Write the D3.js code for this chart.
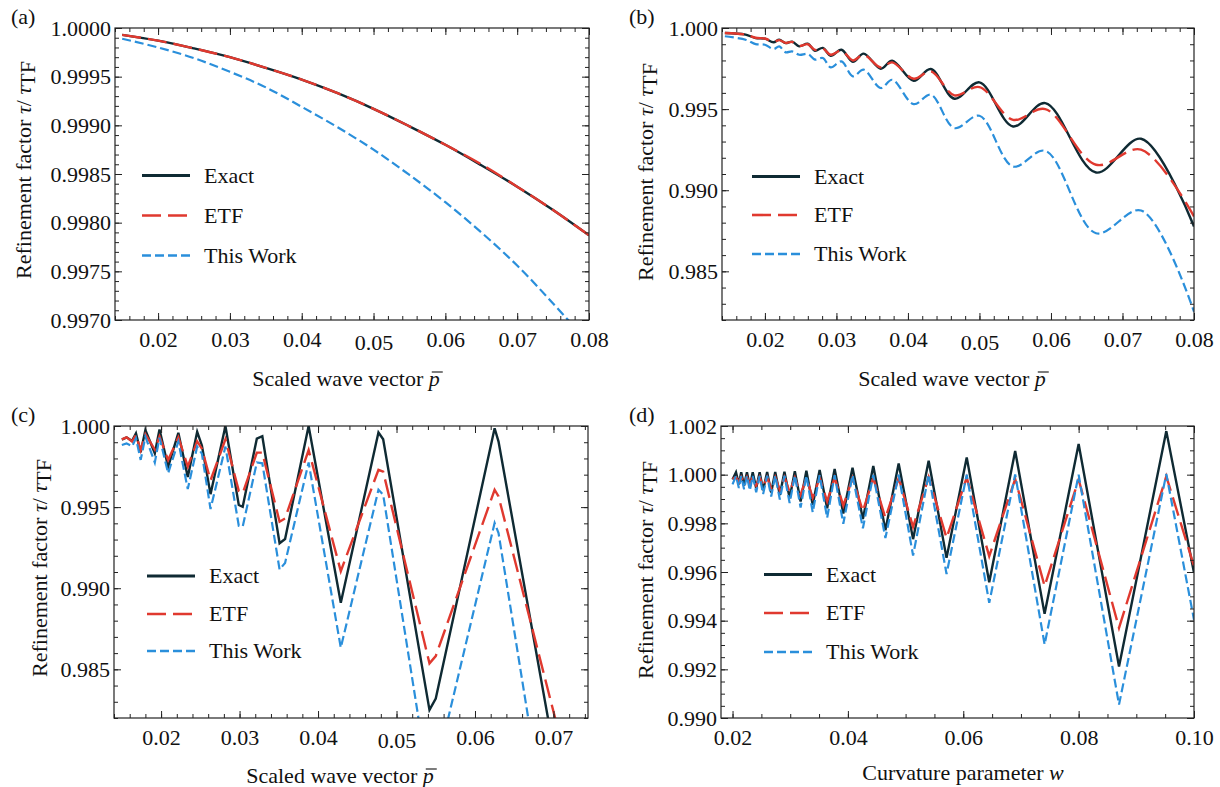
<!DOCTYPE html>
<html>
<head>
  <meta charset="utf-8">
  <title>Refinement factor</title>
  <script src="https://d3js.org/d3.v7.min.js"></script>
  <style>
    body { margin: 0; background: #fff; }
    text { font-family: 'Liberation Serif', 'Times New Roman', Times, serif; fill: #111; }
  </style>
</head>
<body>
  <svg width="1220" height="787"></svg>
  <script>
    // ---- data ----
    // (a) smooth curves
    const pA = [0.015, 0.02, 0.025, 0.03, 0.035, 0.04, 0.045, 0.05, 0.055, 0.06, 0.065, 0.07, 0.075, 0.08];
    const exactA = [0.99993, 0.99987, 0.99979, 0.99970, 0.99959, 0.99947, 0.99933, 0.99917, 0.99899, 0.99880, 0.99859, 0.99837, 0.99813, 0.99787];
    const etfA = [0.99993, 0.99987, 0.99979, 0.99970, 0.99959, 0.99947, 0.99933, 0.99917, 0.99899, 0.99880, 0.99860, 0.99837, 0.99813, 0.99787];
    const workA = [0.99989, 0.99980, 0.99969, 0.99955, 0.99939, 0.99919, 0.99898, 0.99875, 0.99849, 0.99821, 0.99790, 0.99756, 0.99717, 0.99676];

    // (b) wiggly curves
    const pB = [0.0144, 0.0173, 0.0187, 0.0200, 0.0212, 0.0220, 0.0229, 0.0238, 0.0248, 0.0260, 0.0270, 0.0281, 0.0292, 0.0307,
                0.0323, 0.0338, 0.0362, 0.0378, 0.0408, 0.0432, 0.0465, 0.0500, 0.0547, 0.0592, 0.0663, 0.0726, 0.0800];
    const exactB = [0.99969, 0.99959, 0.99938, 0.99934, 0.99912, 0.99928, 0.99907, 0.99916, 0.99887, 0.99903, 0.99860, 0.99877, 0.99829, 0.99866,
                    0.99792, 0.99842, 0.99749, 0.99798, 0.99675, 0.99747, 0.99564, 0.99665, 0.99393, 0.99537, 0.99109, 0.99317, 0.98776];
    const etfB = [0.99969, 0.99959, 0.99940, 0.99935, 0.99915, 0.99925, 0.99908, 0.99914, 0.99890, 0.99900, 0.99865, 0.99873, 0.99835, 0.99860,
                  0.99800, 0.99835, 0.99757, 0.99788, 0.99687, 0.99733, 0.99585, 0.99636, 0.99434, 0.99500, 0.99157, 0.99250, 0.98838];
    const workB = [0.99949, 0.99928, 0.99901, 0.99897, 0.99870, 0.99887, 0.99850, 0.99856, 0.99835, 0.99840, 0.99805, 0.99815, 0.99757, 0.99794,
                   0.99702, 0.99743, 0.99630, 0.99681, 0.99531, 0.99589, 0.99383, 0.99459, 0.99146, 0.99243, 0.98735, 0.98875, 0.98251];

    // (c) sampled sawtooth, same wave vector axis
    const pC = [0.0150, 0.0156, 0.0163, 0.0168, 0.0174, 0.0180, 0.0192, 0.0198, 0.0209, 0.0222, 0.0234, 0.0246, 0.0252, 0.0263, 0.0282,
                0.0299, 0.0304, 0.0322, 0.0329, 0.0351, 0.0358, 0.0388, 0.0429, 0.0477, 0.0483, 0.0542, 0.0550, 0.0625, 0.0630, 0.0710];
    const exactC = [0.99916, 0.99930, 0.99908, 0.99954, 0.99838, 0.99975, 0.99832, 0.99979, 0.99748, 0.99958, 0.99685, 0.99964, 0.99880, 0.99580, 1.00000,
                    0.99513, 0.99502, 0.99922, 0.99937, 0.99277, 0.99303, 1.00000, 0.98910, 0.99960, 0.99918, 0.98250, 0.98320, 0.99986, 0.99904, 0.97740];
    const etfC = [0.99918, 0.99930, 0.99905, 0.99945, 0.99850, 0.99950, 0.99855, 0.99935, 0.99790, 0.99930, 0.99750, 0.99905, 0.99860, 0.99665, 0.99918,
                  0.99600, 0.99585, 0.99836, 0.99836, 0.99410, 0.99430, 0.99852, 0.99105, 0.99730, 0.99718, 0.98537, 0.98582, 0.99607, 0.99566, 0.98050];
    const workC = [0.99883, 0.99893, 0.99875, 0.99924, 0.99791, 0.99934, 0.99775, 0.99928, 0.99709, 0.99904, 0.99611, 0.99873, 0.99830, 0.99488, 0.99873,
                   0.99385, 0.99380, 0.99775, 0.99770, 0.99115, 0.99156, 0.99775, 0.98633, 0.99607, 0.99576, 0.97770, 0.97876, 0.99402, 0.99340, 0.96930];

    // (d) curvature parameter sawtooth
    const wD = [0.0200, 0.0206, 0.0211, 0.0215, 0.0220, 0.0225, 0.0230, 0.0235, 0.0241, 0.0247, 0.0253, 0.0260, 0.0267, 0.0274,
                0.0282, 0.0290, 0.0299, 0.0308, 0.0318, 0.0328, 0.0339, 0.0351, 0.0364, 0.0377, 0.0392, 0.0408, 0.0426, 0.0444,
                0.0465, 0.0488, 0.0513, 0.0540, 0.0571, 0.0606, 0.0645, 0.0690, 0.0741, 0.0800, 0.0870, 0.0952, 0.1000];
    const exactD = [0.99980, 1.00010, 0.99960, 1.00010, 0.99955, 1.00010, 0.99950, 1.00010, 0.99944, 1.00010, 0.99936, 1.00011, 0.99927, 1.00011,
                    0.99916, 1.00012, 0.99903, 1.00014, 0.99890, 1.00016, 0.99876, 1.00019, 0.99862, 1.00023, 0.99840, 1.00028, 0.99818, 1.00036,
                    0.99772, 1.00046, 0.99735, 1.00057, 0.99658, 1.00071, 0.99558, 1.00097, 0.99428, 1.00126, 0.99212, 1.00179, 0.99597];
    const etfD = [0.99982, 0.99990, 0.99968, 0.99990, 0.99964, 0.99990, 0.99960, 0.99990, 0.99955, 0.99990, 0.99950, 0.99989, 0.99944, 0.99989,
                  0.99937, 0.99989, 0.99928, 0.99988, 0.99918, 0.99988, 0.99905, 0.99987, 0.99890, 0.99987, 0.99873, 0.99986, 0.99850, 0.99986,
                  0.99822, 0.99986, 0.99785, 0.99990, 0.99740, 0.99988, 0.99665, 0.99982, 0.99542, 0.99980, 0.99370, 0.99993, 0.99624];
    const workD = [0.99960, 0.99995, 0.99945, 0.99995, 0.99940, 0.99995, 0.99935, 0.99995, 0.99928, 0.99995, 0.99920, 0.99996, 0.99910, 0.99996,
                   0.99898, 0.99996, 0.99883, 0.99997, 0.99865, 0.99997, 0.99845, 0.99998, 0.99822, 0.99998, 0.99798, 0.99998, 0.99780, 0.99999,
                   0.99740, 1.00000, 0.99668, 1.00000, 0.99592, 1.00000, 0.99473, 1.00001, 0.99302, 1.00000, 0.99055, 1.00003, 0.99404];

    // tick labels
    const xTicksP = [0.02, 0.03, 0.04, 0.05, 0.06, 0.07, 0.08];
    const xTicksPc = [0.02, 0.03, 0.04, 0.05, 0.06, 0.07];
    const xTicksW = [0.02, 0.04, 0.06, 0.08, 0.10];
    const yTicksA = [0.9970, 0.9975, 0.9980, 0.9985, 0.9990, 0.9995, 1.0000];
    const yTicksB = [0.985, 0.990, 0.995, 1.000];
    const yTicksD = [0.990, 0.992, 0.994, 0.996, 0.998, 1.000, 1.002];

    const seriesNames = ["Exact", "ETF", "This Work"];
    const seriesColors = ["#0f2a33", "#e0392f", "#2a8fdb"];
    const seriesDash = [null, "19,7", "9,4"];
    const seriesWidth = [2.4, 2.4, 2.2];

    const svg = d3.select("svg");
    svg.append("rect").attr("width", 1220).attr("height", 787).attr("fill", "#fff");

    const panels = [
      { key: "a", label: "(a)", lx: 11, ly: 24,
        left: 115, right: 589, top: 28, bottom: 320,
        xDomain: [0.014, 0.08], yDomain: [0.997, 1.0],
        xs: pA, ys: [exactA, etfA, workA], curve: d3.curveCatmullRom,
        xTicks: xTicksP, xMinor: 0.002, xFmt: d3.format(".2f"),
        yTicks: yTicksA, yMinor: 0.0001, yFmt: d3.format(".4f"),
        legX: 142, legY: [175.5, 215.5, 255.5],
        xTitle: "p", titleX: 346, titleY: 386, yTitleX: 31, yTitleY: 170 },
      { key: "b", label: "(b)", lx: 629, ly: 24,
        left: 722, right: 1194, top: 28, bottom: 320,
        xDomain: [0.014, 0.08], yDomain: [0.982, 1.0],
        xs: pB, ys: [exactB, etfB, workB], curve: d3.curveCatmullRom,
        xTicks: xTicksP, xMinor: 0.002, xFmt: d3.format(".2f"),
        yTicks: yTicksB, yMinor: 0.001, yFmt: d3.format(".3f"),
        legX: 752, legY: [176.5, 215, 254],
        xTitle: "p", titleX: 952, titleY: 386, yTitleX: 653, yTitleY: 172 },
      { key: "c", label: "(c)", lx: 11, ly: 422,
        left: 114, right: 588, top: 426, bottom: 718,
        xDomain: [0.014, 0.0744], yDomain: [0.982, 1.0],
        xs: pC, ys: [exactC, etfC, workC], curve: d3.curveLinear,
        xTicks: xTicksPc, xMinor: 0.002, xFmt: d3.format(".2f"),
        yTicks: yTicksB, yMinor: 0.001, yFmt: d3.format(".3f"),
        legX: 147, legY: [576, 614, 651],
        xTitle: "p", titleX: 340, titleY: 783, yTitleX: 47, yTitleY: 568 },
      { key: "d", label: "(d)", lx: 629, ly: 422,
        left: 721, right: 1194, top: 426, bottom: 718,
        xDomain: [0.018, 0.10], yDomain: [0.990, 1.002],
        xs: wD, ys: [exactD, etfD, workD], curve: d3.curveLinear,
        xTicks: xTicksW, xMinor: 0.005, xFmt: d3.format(".2f"),
        yTicks: yTicksD, yMinor: 0.0005, yFmt: d3.format(".3f"),
        legX: 764, legY: [574.5, 613, 652],
        xTitle: "w", titleX: 963, titleY: 780, yTitleX: 653, yTitleY: 570 }
    ];

    function minorValues(domain, step) {
      const k0 = Math.ceil(domain[0] / step - 1e-6), k1 = Math.floor(domain[1] / step + 1e-6);
      return d3.range(k0, k1 + 1).map(k => +(k * step).toFixed(6));
    }

    function styleAxis(sel) {
      sel.select(".domain").remove();
      sel.selectAll("line").attr("stroke", "#222").attr("stroke-width", 1);
      sel.attr("font-family", null).attr("font-size", 22);
      sel.selectAll("text").attr("fill", "#111");
    }

    panels.forEach(cfg => {
      const x = d3.scaleLinear().domain(cfg.xDomain).range([cfg.left, cfg.right]);
      const y = d3.scaleLinear().domain(cfg.yDomain).range([cfg.bottom, cfg.top]);
      const g = svg.append("g");

      g.append("clipPath").attr("id", "clip-" + cfg.key)
        .append("rect")
        .attr("x", cfg.left).attr("y", cfg.top)
        .attr("width", cfg.right - cfg.left).attr("height", cfg.bottom - cfg.top);

      // curves
      const plot = g.append("g").attr("clip-path", `url(#clip-${cfg.key})`);
      cfg.ys.forEach((vals, s) => {
        const line = d3.line()
          .x((d, i) => x(cfg.xs[i]))
          .y(d => y(d))
          .curve(cfg.curve);
        plot.append("path")
          .attr("d", line(vals))
          .attr("fill", "none")
          .attr("stroke", seriesColors[s])
          .attr("stroke-width", seriesWidth[s])
          .attr("stroke-dasharray", seriesDash[s])
          .attr("stroke-linejoin", "miter")
          .attr("stroke-miterlimit", 4);
      });

      // ticks, all four sides pointing inwards
      const xMin = minorValues(cfg.xDomain, cfg.xMinor);
      const yMin = minorValues(cfg.yDomain, cfg.yMinor);
      const bottomMajor = g.append("g").attr("transform", `translate(0,${cfg.bottom})`)
        .call(d3.axisBottom(x).tickValues(cfg.xTicks).tickSizeInner(-7).tickSizeOuter(0).tickPadding(11).tickFormat(cfg.xFmt));
      styleAxis(bottomMajor);
      if (cfg.key !== "d") {
        bottomMajor.selectAll(".tick text").filter(d => Math.abs(d - 0.05) < 1e-9).attr("y", 14);
      }
      styleAxis(g.append("g").attr("transform", `translate(0,${cfg.bottom})`)
        .call(d3.axisBottom(x).tickValues(xMin).tickSizeInner(-4).tickSizeOuter(0).tickFormat("")));
      styleAxis(g.append("g").attr("transform", `translate(0,${cfg.top})`)
        .call(d3.axisTop(x).tickValues(cfg.xTicks).tickSizeInner(-7).tickSizeOuter(0).tickFormat("")));
      styleAxis(g.append("g").attr("transform", `translate(0,${cfg.top})`)
        .call(d3.axisTop(x).tickValues(xMin).tickSizeInner(-4).tickSizeOuter(0).tickFormat("")));
      styleAxis(g.append("g").attr("transform", `translate(${cfg.left},0)`)
        .call(d3.axisLeft(y).tickValues(cfg.yTicks).tickSizeInner(-7).tickSizeOuter(0).tickPadding(4).tickFormat(cfg.yFmt)));
      styleAxis(g.append("g").attr("transform", `translate(${cfg.left},0)`)
        .call(d3.axisLeft(y).tickValues(yMin).tickSizeInner(-4).tickSizeOuter(0).tickFormat("")));
      styleAxis(g.append("g").attr("transform", `translate(${cfg.right},0)`)
        .call(d3.axisRight(y).tickValues(cfg.yTicks).tickSizeInner(-7).tickSizeOuter(0).tickFormat("")));
      styleAxis(g.append("g").attr("transform", `translate(${cfg.right},0)`)
        .call(d3.axisRight(y).tickValues(yMin).tickSizeInner(-4).tickSizeOuter(0).tickFormat("")));

      // frame
      g.append("rect")
        .attr("x", cfg.left).attr("y", cfg.top)
        .attr("width", cfg.right - cfg.left).attr("height", cfg.bottom - cfg.top)
        .attr("fill", "none").attr("stroke", "#222").attr("stroke-width", 1.2);

      // legend
      seriesNames.forEach((name, s) => {
        g.append("line")
          .attr("x1", cfg.legX).attr("x2", cfg.legX + 48)
          .attr("y1", cfg.legY[s]).attr("y2", cfg.legY[s])
          .attr("stroke", seriesColors[s])
          .attr("stroke-width", s === 0 ? 2.8 : 2.6)
          .attr("stroke-dasharray", seriesDash[s]);
        g.append("text")
          .attr("x", cfg.legX + 62).attr("y", cfg.legY[s])
          .attr("dy", "0.34em")
          .attr("font-size", 22)
          .text(name);
      });

      // panel letter
      g.append("text").attr("x", cfg.lx).attr("y", cfg.ly).attr("font-size", 22).text(cfg.label);

      // x title
      const xt = g.append("text")
        .attr("x", cfg.titleX).attr("y", cfg.titleY)
        .attr("text-anchor", "middle")
        .attr("font-size", 22);
      const base = cfg.xTitle === "p" ? "Scaled wave vector " : "Curvature parameter ";
      xt.append("tspan").text(base);
      xt.append("tspan").attr("font-style", "italic").text(cfg.xTitle);
      if (cfg.xTitle === "p") {
        const node = xt.node();
        const idx = base.length;
        const s0 = node.getStartPositionOfChar(idx), s1 = node.getEndPositionOfChar(idx);
        g.append("line")
          .attr("x1", s0.x + 3).attr("x2", s1.x + 3)
          .attr("y1", cfg.titleY - 14).attr("y2", cfg.titleY - 14)
          .attr("stroke", "#111").attr("stroke-width", 1.1);
      }

      // y title
      const yt = g.append("text")
        .attr("transform", `translate(${cfg.yTitleX},${cfg.yTitleY}) rotate(-90)`)
        .attr("text-anchor", "middle")
        .attr("font-size", 22);
      yt.append("tspan").text("Refinement factor ");
      yt.append("tspan").attr("font-style", "italic").text("\u03c4");
      yt.append("tspan").text("/ ");
      yt.append("tspan").attr("font-style", "italic").text("\u03c4");
      yt.append("tspan").attr("dy", 4).text("TF");
    });
  </script>
</body>
</html>
